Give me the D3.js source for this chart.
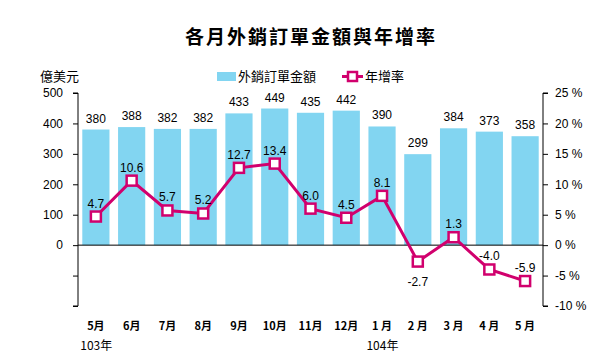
<!DOCTYPE html>
<html>
<head>
<meta charset="utf-8">
<script src="https://cdn.jsdelivr.net/npm/d3@7"></script>
<style>
  body { margin: 0; background: #fff; }
  text { font-family: "Liberation Sans", Arial, "Noto Sans CJK TC", sans-serif; }
</style>
</head>
<body>
<script>
// data
const months = ['5月', '6月', '7月', '8月', '9月', '10月', '11月', '12月', '1 月', '2 月', '3 月', '4 月', '5 月']
const orders = [380, 388, 382, 382, 433, 449, 435, 442, 390, 299, 384, 373, 358]
const growth = [4.7, 10.6, 5.7, 5.2, 12.7, 13.4, 6.0, 4.5, 8.1, -2.7, 1.3, -4.0, -5.9]
const leftTicks = [-200, -100, 0, 100, 200, 300, 400, 500]
const rightTicks = [-10, -5, 0, 5, 10, 15, 20, 25]
const years = [{ label: '103年', at: 0 }, { label: '104年', at: 8 }]

const W = 614, H = 361
const margin = { top: 93, right: 71, bottom: 55, left: 78 }
const width = W - margin.left - margin.right
const height = H - margin.top - margin.bottom

const barColor = '#82d5f1'
const lineColor = '#d1006d'
const cjk = '"Noto Sans CJK TC", sans-serif'

const svg = d3.select('body').append('svg')
    .attr('width', W)
    .attr('height', H)

const g = svg.append('g')
    .attr('transform', `translate(${margin.left},${margin.top})`)

const x = d3.scaleBand()
    .domain(months)
    .range([0, width])
    .paddingInner(0.24)
    .paddingOuter(0.12)

const xCenter = d => x(d) + x.bandwidth() / 2

const yL = d3.scaleLinear().domain([-200, 500]).range([height, 0])
const yR = d3.scaleLinear().domain([-10, 25]).range([height, 0])

// bars
g.selectAll('rect.bar')
    .data(orders)
    .join('rect')
    .attr('class', 'bar')
    .attr('x', (d, i) => x(months[i]))
    .attr('width', x.bandwidth())
    .attr('y', d => yL(d))
    .attr('height', d => yL(0) - yL(d))
    .attr('fill', barColor)

g.selectAll('text.barlabel')
    .data(orders)
    .join('text')
    .attr('class', 'barlabel')
    .attr('x', (d, i) => xCenter(months[i]))
    .attr('y', d => yL(d) - 7)
    .attr('text-anchor', 'middle')
    .attr('font-size', 12)
    .text(d => d)

// zero line
g.append('line')
    .attr('x1', 0).attr('x2', width)
    .attr('y1', yL(0)).attr('y2', yL(0))
    .attr('stroke', '#000')

// left axis
const axisL = g.append('g')
    .call(d3.axisLeft(yL).tickValues(leftTicks).tickSize(5).tickFormat(d => d >= 0 ? d : ''))
axisL.select('.domain').attr('d', `M-5,${height}H0V0H-5`)
axisL.selectAll('text').attr('font-size', 12).attr('x', -15).attr('font-family', null)

// right axis
const axisR = g.append('g')
    .attr('transform', `translate(${width},0)`)
    .call(d3.axisRight(yR).tickValues(rightTicks).tickSize(5).tickFormat(d => d + ' %'))
axisR.select('.domain').attr('d', `M5,${height}H0V0H5`)
axisR.selectAll('text').attr('font-size', 12).attr('x', 12).attr('font-family', null)

// growth line
const line = d3.line()
    .x((d, i) => xCenter(months[i]))
    .y(d => yR(d))

g.append('path')
    .datum(growth)
    .attr('d', line)
    .attr('fill', 'none')
    .attr('stroke', lineColor)
    .attr('stroke-width', 3)

g.selectAll('rect.marker')
    .data(growth)
    .join('rect')
    .attr('class', 'marker')
    .attr('x', (d, i) => xCenter(months[i]) - 5)
    .attr('y', d => yR(d) - 5)
    .attr('width', 10)
    .attr('height', 10)
    .attr('fill', '#fff')
    .attr('stroke', lineColor)
    .attr('stroke-width', 2.5)

const below = new Set([9])
g.selectAll('text.growlabel')
    .data(growth)
    .join('text')
    .attr('class', 'growlabel')
    .attr('x', (d, i) => xCenter(months[i]))
    .attr('y', (d, i) => below.has(i) ? yR(d) + 24 : yR(d) - 9)
    .attr('text-anchor', 'middle')
    .attr('font-size', 12)
    .text(d => d.toFixed(1))

// x labels
g.selectAll('text.month')
    .data(months)
    .join('text')
    .attr('class', 'month')
    .attr('x', d => xCenter(d))
    .attr('y', height + 24)
    .attr('text-anchor', 'middle')
    .attr('font-size', 11)
    .attr('font-weight', 'bold')
    .style('font-family', cjk)
    .text(d => d)

g.selectAll('text.year')
    .data(years)
    .join('text')
    .attr('class', 'year')
    .attr('x', d => x(months[d.at]) - 2)
    .attr('y', height + 44)
    .attr('font-size', 12)
    .style('font-family', cjk)
    .text(d => d.label)

// title
svg.append('text')
    .attr('x', 311)
    .attr('y', 44)
    .attr('text-anchor', 'middle')
    .attr('font-size', 19)
    .attr('font-weight', 'bold')
    .style('font-family', cjk)
    .style('letter-spacing', '2px')
    .text('各月外銷訂單金額與年增率')

// unit
svg.append('text')
    .attr('x', 40)
    .attr('y', 81)
    .attr('font-size', 13)
    .style('font-family', cjk)
    .text('億美元')

// legend
const legend = svg.append('g')
legend.append('rect')
    .attr('x', 217).attr('y', 72)
    .attr('width', 19).attr('height', 9)
    .attr('fill', barColor)
legend.append('text')
    .attr('x', 238).attr('y', 81)
    .attr('font-size', 13)
    .style('font-family', cjk)
    .text('外銷訂單金額')
legend.append('line')
    .attr('x1', 342).attr('x2', 363)
    .attr('y1', 76.5).attr('y2', 76.5)
    .attr('stroke', lineColor)
    .attr('stroke-width', 3)
legend.append('rect')
    .attr('x', 348).attr('y', 72)
    .attr('width', 9).attr('height', 9)
    .attr('fill', '#fff')
    .attr('stroke', lineColor)
    .attr('stroke-width', 2.5)
legend.append('text')
    .attr('x', 365).attr('y', 81)
    .attr('font-size', 13)
    .style('font-family', cjk)
    .text('年增率')
</script>
</body>
</html>
